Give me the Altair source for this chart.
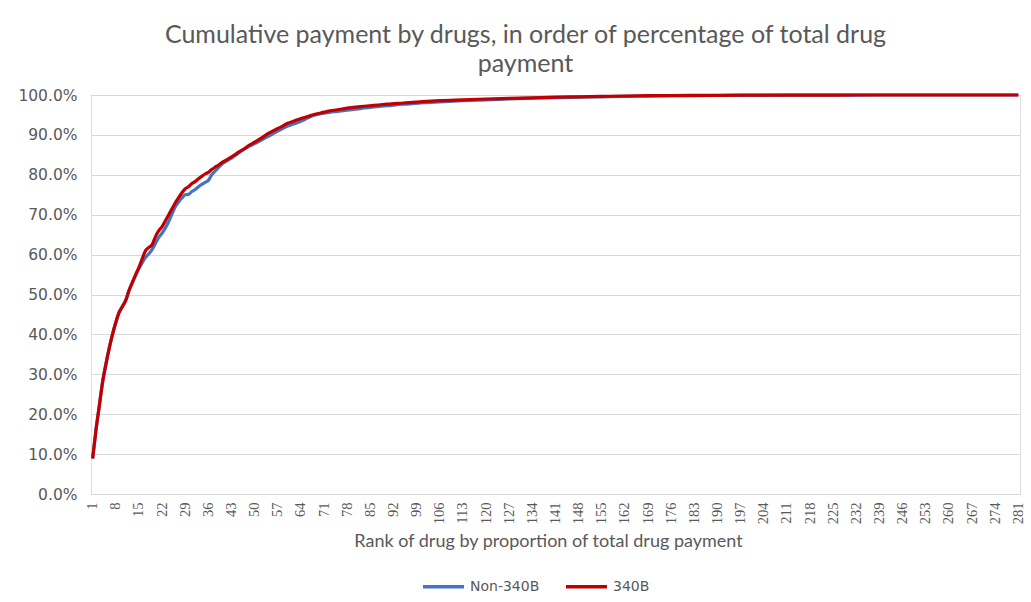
import altair as alt
import pandas as pd

# Ranks (x) and cumulative share (%)
ranks_340b = [1,2,3,4,5,6,7,8,9,10,11,12,13,14,15,16,17,18,19,20,21,22,23,24,25,26,27,28,29,30,
              31,32,33,34,35,36,37,38,39,40,41,42,43,44,45,46,47,48,49,50,52,54,56,58,60,62,64,66,68,70,
              72,75,78,82,86,90,95,100,106,113,120,127,134,141,148,155,162,169,176,183,197,211,225,239,281]
vals_340b = [8.9,16,22,28,32.5,36.5,40,43,45.5,47,48.5,51,53,55,56.8,59,61,61.8,62.5,64.5,66,67,68.5,70,71.5,73,74.3,75.5,76.5,77,
             77.8,78.3,79,79.6,80.2,80.6,81.3,81.9,82.4,83,83.5,84,84.5,85,85.6,86.1,86.6,87.2,87.7,88.2,89.2,90.3,91.2,92,92.9,93.5,94.1,94.6,95.1,95.5,
             95.9,96.3,96.7,97.1,97.4,97.7,98,98.3,98.6,98.8,99.0,99.15,99.3,99.45,99.55,99.65,99.75,99.82,99.87,99.9,99.95,99.97,99.99,100,100]

ranks_non = [1,2,3,4,5,6,7,8,9,10,11,12,13,14,15,16,17,18,19,20,21,22,23,24,25,26,27,28,29,30,
             31,32,33,34,35,36,37,38,39,40,41,42,43,44,45,46,47,48,49,50,52,54,56,58,60,62,64,66,68,70,
             72,75,78,82,86,90,95,100,106,113,120,127,134,141,148,155,162,169,176,183,197,211,225,239,281]
vals_non = [8.9,16,22,28,32.5,36.5,40,43,45.5,47,48.5,51,53,54.8,56.5,58,59.3,60.2,61.3,62.8,64.3,65.4,66.7,68.3,70.2,72,73.2,74.2,75,75.1,
            75.8,76.3,77,77.6,78.1,78.6,80,80.9,81.8,82.6,83.2,83.7,84.2,84.8,85.4,86,86.5,87,87.4,87.8,88.7,89.6,90.5,91.4,92.2,92.8,93.4,94.2,94.9,95.3,
            95.6,95.9,96.2,96.6,97,97.3,97.7,98,98.3,98.6,98.8,99.0,99.2,99.35,99.45,99.55,99.65,99.72,99.8,99.85,99.9,99.95,99.98,100,100]

x_tick_labels = list(range(1, 282, 7))
y_ticks = [0, 0.1, 0.2, 0.3, 0.4, 0.5, 0.6, 0.7, 0.8, 0.9, 1.0]
series_names = ["Non-340B", "340B"]
series_colors = ["#4472C4", "#C00000"]

df_non = pd.DataFrame({"rank": ranks_non, "share": [v / 100 for v in vals_non], "series": "Non-340B"})
df_340 = pd.DataFrame({"rank": ranks_340b, "share": [v / 100 for v in vals_340b], "series": "340B"})

gray = "#595959"

x_enc = alt.X("rank:Q",
              scale=alt.Scale(domain=[0.5, 281.5], nice=False, zero=False),
              axis=alt.Axis(values=x_tick_labels, labelAngle=270, labelFont="Liberation Serif",
                            labelFontSize=14.5, labelColor=gray, labelOverlap=False, labelFlush=False,
                            ticks=False, grid=False, domain=False, labelPadding=8,
                            labelBaseline="middle", labelAlign="right",
                            title="Rank of drug by proportion of total drug payment",
                            titleFont="Lato", titleFontSize=18, titleFontWeight="normal",
                            titleColor=gray, titlePadding=9, titleX=457, titleAlign="center"))
y_enc = alt.Y("share:Q",
              scale=alt.Scale(domain=[0, 1], nice=False),
              axis=alt.Axis(values=y_ticks, format=".1%", labelFont="DejaVu Sans", labelFontSize=15.5,
                            labelColor=gray, ticks=False, domain=False, gridColor="#d9d9d9",
                            labelPadding=14, title=None))
color_enc = alt.Color("series:N",
                      scale=alt.Scale(domain=series_names, range=series_colors),
                      legend=alt.Legend(title=None, orient="none", direction="horizontal",
                                        legendX=330, legendY=469, symbolType="stroke",
                                        symbolSize=1681, symbolStrokeWidth=3.5,
                                        labelFont="DejaVu Sans", labelFontSize=14, labelColor=gray,
                                        columnPadding=19, labelOffset=4))

base_line = dict(strokeWidth=3.2, interpolate="monotone")
line_non = alt.Chart(df_non).mark_line(**base_line).encode(x=x_enc, y=y_enc, color=color_enc)
line_340 = alt.Chart(df_340).mark_line(**base_line).encode(x=x_enc, y=y_enc, color=color_enc)

chart = alt.layer(line_non, line_340).properties(
    width=929, height=399,
    autosize=alt.AutoSizeParams(type="none"),
    padding={"left": 91, "top": 95, "right": 11, "bottom": 108},
    title=alt.TitleParams(
        text=["Cumulative payment by drugs, in order of percentage of total drug", "payment"],
        font="Lato", fontSize=25, fontWeight="normal", color=gray, anchor="middle",
        lineHeight=29, offset=11, dx=-30),
).configure_view(stroke=None).configure(background="white")

chart.save("out.html", embed_options={"renderer": "svg", "actions": False})
